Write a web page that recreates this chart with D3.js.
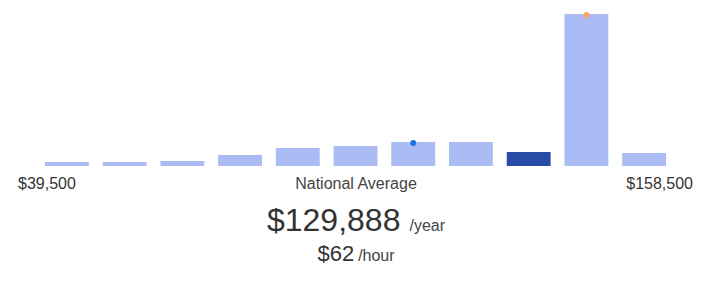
<html>
<head>
<script src="https://cdn.jsdelivr.net/npm/d3@7"></script>
<style>
  body { margin: 0; background: #fff; }
  text { font-family: "Liberation Sans", Arial, sans-serif; fill: #333; }
</style>
</head>
<body>
<script>

var width = 709;
var height = 287;

// salary distribution buckets (relative share)
var buckets = [0, 1, 2, 3, 4, 5, 6, 7, 8, 9, 10];
var shares = [4, 4, 5, 11, 18, 20, 24, 24, 14, 152, 13];
var highlightBucket = 8;
var nationalBucket = 6;
var localBucket = 9;

var minLabel = '$39,500';
var maxLabel = '$158,500';
var midLabel = 'National Average';
var yearly = '$129,888';
var hourly = '$62';

var svg = d3.select('body').append('svg')
  .attr('width', width)
  .attr('height', height);

var x = d3.scaleBand()
  .domain(buckets)
  .range([38, 673])
  .paddingInner(0.24)
  .paddingOuter(0.12);

var y = d3.scaleLinear()
  .domain([0, d3.max(shares)])
  .range([166, 14]);

svg.append('g').selectAll('rect')
  .data(shares)
  .enter()
  .append('rect')
  .attr('x', function(d, i){ return x(buckets[i]); })
  .attr('y', function(d){ return y(d); })
  .attr('width', x.bandwidth())
  .attr('height', function(d){ return y(0) - y(d); })
  .style('fill', function(d, i){ return i == highlightBucket ? '#284ba5' : '#aabcf3'; });

svg.append('circle')
  .attr('cx', x(nationalBucket) + x.bandwidth()/2)
  .attr('cy', y(shares[nationalBucket]) + 1)
  .attr('r', 3)
  .style('fill', '#1a73e8');

svg.append('circle')
  .attr('cx', x(localBucket) + x.bandwidth()/2)
  .attr('cy', y(shares[localBucket]) + 1)
  .attr('r', 3)
  .style('fill', '#f6a95e');

svg.append('text')
  .attr('x', 18).attr('y', 189)
  .style('font-size', '16px')
  .text(minLabel);

svg.append('text')
  .attr('x', 356).attr('y', 189)
  .attr('text-anchor', 'middle')
  .style('font-size', '16px')
  .style('fill', '#444')
  .text(midLabel);

svg.append('text')
  .attr('x', 693).attr('y', 189)
  .attr('text-anchor', 'end')
  .style('font-size', '16px')
  .text(maxLabel);

var big = svg.append('text')
  .attr('x', 356).attr('y', 231)
  .attr('text-anchor', 'middle');
big.append('tspan').style('font-size', '32px').text(yearly);
big.append('tspan').attr('dx', 9).style('font-size', '16px').style('fill', '#444').text('/year');

var small = svg.append('text')
  .attr('x', 356).attr('y', 261)
  .attr('text-anchor', 'middle');
small.append('tspan').style('font-size', '22px').text(hourly);
small.append('tspan').attr('dx', 4).style('font-size', '16px').style('fill', '#444').text('/hour');

</script>
</body>
</html>
